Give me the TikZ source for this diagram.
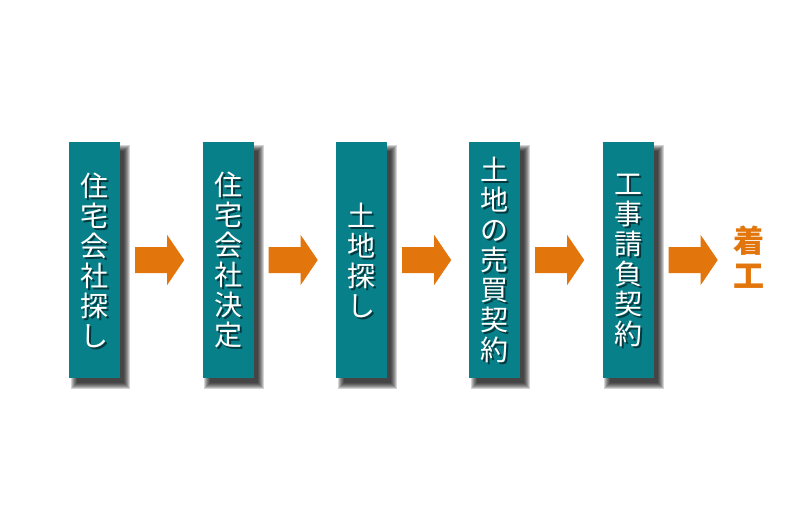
\documentclass[tikz,border=0pt]{standalone}
\usepackage{fontspec}
\newfontfamily\jp{Noto Sans CJK JP}
\usetikzlibrary{calc}
\pgfdeclarelayer{bottom}
\pgfdeclarelayer{shadow}
\pgfsetlayers{bottom,shadow,main}
\definecolor{boxteal}{RGB}{8,128,138}
\definecolor{arroworange}{RGB}{226,118,12}
\tikzset{
  stepbox/.style={fill=boxteal,minimum width=51pt,minimum height=236pt,inner sep=0pt},
  boxtext/.style={text=white,font=\jp\fontsize{28}{30}\selectfont,align=center,inner sep=0pt},
  boxtextshadow/.style={text=black,opacity=0.55,font=\jp\fontsize{28}{30}\selectfont,align=center,inner sep=0pt},
  endtext/.style={text=arroworange,font=\jp\bfseries\fontsize{31}{35}\selectfont,align=center,inner sep=0pt},
  arrowfill/.style={fill=arroworange},
  shadowlayer/.style={fill=black,opacity=0.17}
}
\newcommand\flowbox[3]{% name, x, text
  \node[stepbox] (#1) at (#2,260) {};
  \begin{pgfonlayer}{shadow}
    \foreach \e in {4,3,2,1,0,-1,-2}{
      \fill[shadowlayer] ($(#1.north west)+(6-\e,7-\e)$) rectangle ($(#1.south east)+(6+\e,7+\e)$);
    }
  \end{pgfonlayer}
  \node[boxtextshadow] (#1s) at ($(#1.center)+(2,2)$) {#3};
  \node[boxtext] (#1t) at (#1.center) {#3};
}
\newcommand\flowarrow[1]{%
  \fill[arrowfill] ($(#1.east)+(15,-13)$) -- ++(32,0) -- ++(0,-12) -- ++(17,25) -- ++(-17,25) -- ++(0,-12) -- ++(-32,0) -- cycle;
}
\begin{document}
\begin{tikzpicture}[x=1pt,y=-1pt]
\useasboundingbox (0,0) rectangle (800,527);
\begin{pgfonlayer}{bottom}
\fill[white] (0,0) rectangle (800,527);
\end{pgfonlayer}
\flowbox{b1}{94.5}{住\\宅\\会\\社\\探\\し}
\flowbox{b2}{228}{住\\宅\\会\\社\\決\\定}
\flowbox{b3}{361.5}{土\\地\\探\\し}
\flowbox{b4}{494.5}{土\\地\\の\\売\\買\\契\\約}
\flowbox{b5}{628}{工\\事\\請\\負\\契\\約}
\node[endtext] (e) at (748.5,257) {着\\工};
\flowarrow{b1}
\flowarrow{b2}
\flowarrow{b3}
\flowarrow{b4}
\flowarrow{b5}
\end{tikzpicture}
\end{document}
